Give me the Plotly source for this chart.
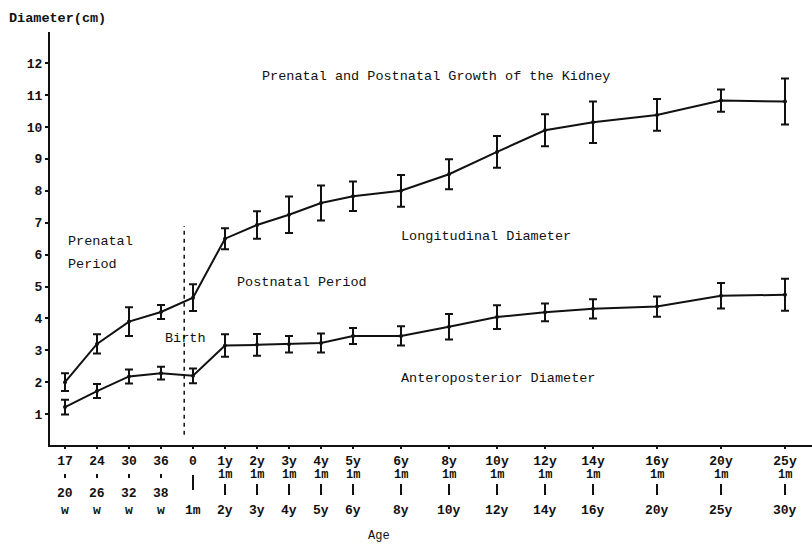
import plotly.graph_objects as go

# ---- data ----
age_labels_top = ["17", "24", "30", "36", "0", "1y", "2y", "3y", "4y", "5y", "6y",
                  "8y", "10y", "12y", "14y", "16y", "20y", "25y"]
age_labels_mid = ["", "", "", "", "", "1m", "1m", "1m", "1m", "1m", "1m",
                  "1m", "1m", "1m", "1m", "1m", "1m", "1m"]
age_labels_wk = ["20", "26", "32", "38"]
age_labels_bot = ["w", "w", "w", "w", "1m", "2y", "3y", "4y", "5y", "6y", "8y",
                  "10y", "12y", "14y", "16y", "20y", "25y", "30y"]
# ordinal position of each age group on the (unevenly spaced) age axis
age_pos = [0, 2, 4, 6, 8, 10, 12, 14, 16, 18, 21, 24, 27, 30, 33, 37, 41, 45]

longitudinal = [2.0, 3.2, 3.9, 4.2, 4.65, 6.5, 6.93, 7.25, 7.62, 7.83, 8.0,
                8.52, 9.22, 9.9, 10.15, 10.38, 10.83, 10.8]
longitudinal_sd = [0.28, 0.3, 0.45, 0.22, 0.42, 0.33, 0.43, 0.57, 0.55, 0.46, 0.5,
                   0.47, 0.5, 0.5, 0.65, 0.5, 0.35, 0.72]
anteroposterior = [1.22, 1.72, 2.18, 2.28, 2.2, 3.15, 3.17, 3.19, 3.23, 3.45, 3.45,
                   3.74, 4.04, 4.19, 4.3, 4.37, 4.71, 4.74]
anteroposterior_sd = [0.23, 0.22, 0.22, 0.2, 0.23, 0.35, 0.34, 0.26, 0.3, 0.25, 0.3,
                      0.4, 0.37, 0.28, 0.3, 0.32, 0.4, 0.5]
birth_pos = 7.45
y_ticks = list(range(1, 13))

# ---- layout constants ----
W, H = 812, 544
L, R, T, B = 50, 0, 32, 99
plot_h = H - T - B
FONT = "Liberation Mono, Courier New, monospace"
INK = "#111111"


def py_to_paper(py):
    return (H - B - py) / plot_h


fig = go.Figure()

for vals, sd, name in [(longitudinal, longitudinal_sd, "Longitudinal Diameter"),
                       (anteroposterior, anteroposterior_sd, "Anteroposterior Diameter")]:
    fig.add_trace(go.Scatter(
        x=age_pos, y=vals, name=name, mode="lines+markers",
        line=dict(color=INK, width=2),
        marker=dict(color=INK, size=4),
        error_y=dict(type="data", array=sd, visible=True, color=INK,
                     thickness=2, width=4),
        showlegend=False,
        cliponaxis=False,
    ))

# birth marker
fig.add_shape(type="line", xref="x", yref="y", x0=birth_pos, x1=birth_pos,
              y0=0.35, y1=6.9, line=dict(color=INK, width=1.5, dash="4px,4px"))

ann = []


def add_text(text, x, y, xref="x", yref="y", xanchor="left", size=13.5, bold=False):
    ann.append(dict(text=("<b>%s</b>" % text) if bold else text, x=x, y=y,
                    xref=xref, yref=yref, xanchor=xanchor, yanchor="middle",
                    showarrow=False, font=dict(family=FONT, size=size, color=INK)))


def add_mark(x, py0, py1):
    fig.add_shape(type="line", xref="x", yref="paper", x0=x, x1=x,
                  y0=py_to_paper(py0), y1=py_to_paper(py1),
                  line=dict(color=INK, width=2))


add_text("Prenatal and Postnatal Growth of the Kidney", 12.2, 11.6)
add_text("Prenatal", 0.05, 6.4)
add_text("Period", 0.05, 5.7)
add_text("Birth", 6.15, 3.38)
add_text("Postnatal Period", 10.65, 5.11)
add_text("Longitudinal Diameter", 20.85, 6.58)
add_text("Anteroposterior Diameter", 20.85, 2.1)
add_text("Diameter(cm)", (7 - L) / (W - L - R), py_to_paper(18), xref="paper", yref="paper",
         bold=True, size=13.5)
add_text("Age", (379 - L) / (W - L - R), py_to_paper(536), xref="paper", yref="paper",
         xanchor="center", size=12)

# lower rows of the age axis labels
for i, p in enumerate(age_pos):
    if age_labels_mid[i]:
        add_text(age_labels_mid[i], p, py_to_paper(475), yref="paper", xanchor="center",
                 bold=True, size=12)
    if i < 4:
        add_mark(p, 474, 478)
        add_text(age_labels_wk[i], p, py_to_paper(494), yref="paper", xanchor="center",
                 bold=True, size=13)
    elif i == 4:
        add_mark(p, 475, 490)
    else:
        add_mark(p, 484, 495)
    add_text(age_labels_bot[i], p, py_to_paper(510), yref="paper", xanchor="center",
             bold=True, size=13)

fig.update_layout(
    width=W, height=H,
    margin=dict(l=L, r=R, t=T, b=B, autoexpand=False),
    paper_bgcolor="white", plot_bgcolor="white",
    font=dict(family=FONT, size=13, color=INK),
    annotations=ann,
    xaxis=dict(
        range=[-0.9375, 46.6875], tickmode="array", tickvals=age_pos,
        ticktext=["<b>%s</b>" % t for t in age_labels_top],
        showgrid=False, zeroline=False, showline=True, linecolor=INK, linewidth=2,
        ticks="outside", ticklen=2, tickwidth=2, tickcolor=INK,
        tickfont=dict(family=FONT, size=13, color=INK), automargin=False,
    ),
    yaxis=dict(
        range=[0.03, 12.98], tickmode="array", tickvals=y_ticks,
        ticktext=["<b>%d</b>" % v for v in y_ticks],
        showgrid=False, zeroline=False, showline=True, linecolor=INK, linewidth=2,
        ticks="outside", ticklen=3, tickwidth=2, tickcolor=INK,
        tickfont=dict(family=FONT, size=13, color=INK), automargin=False,
    ),
)

fig.write_html("out.html", config={"displayModeBar": False},
               post_script="document.body.style.margin='0';document.body.style.overflow='hidden';")
